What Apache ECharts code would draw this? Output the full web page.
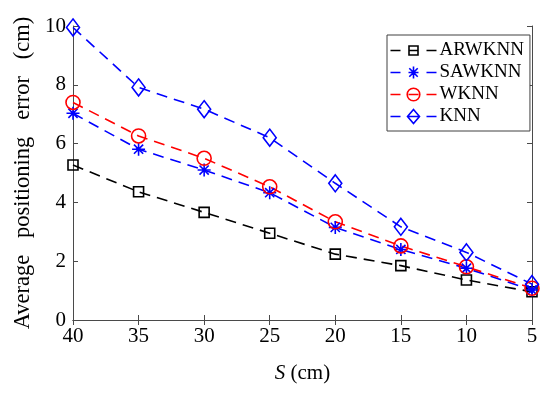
<!DOCTYPE html>
<html><head><meta charset="utf-8">
<script src="https://cdn.jsdelivr.net/npm/echarts@6/dist/echarts.min.js"></script>
<style>html,body{margin:0;padding:0;background:#fff}#c{width:550px;height:394px}</style>
</head><body><div id="c"></div>
<script>
const S = [40, 35, 30, 25, 20, 15, 10, 5];
const ARWKNN = [5.27, 4.36, 3.66, 2.95, 2.24, 1.85, 1.36, 0.96];
const SAWKNN = [7.03, 5.81, 5.10, 4.33, 3.15, 2.40, 1.76, 1.02];
const WKNN = [7.40, 6.26, 5.50, 4.53, 3.34, 2.52, 1.81, 1.08];
const KNN = [9.95, 7.91, 7.17, 6.20, 4.65, 3.17, 2.30, 1.22];
const yTicks = [0, 2, 4, 6, 8, 10];
const names = ['ARWKNN', 'SAWKNN', 'WKNN', 'KNN'];
const colors = ['#000000', '#0000ff', '#ff0000', '#0000ff'];

const font = 'Liberation Serif';
const ast = 'path://M0,-10L0,10M-10,0L10,0M-7.07,-7.07L7.07,7.07M-7.07,7.07L7.07,-7.07';
// legend icons: dash, marker, dash (46 x 14 box)
const frame = 'M0,0L0,0M46,14L46,14';
const dashes = 'M0,7L10,7M36,7L46,7M18,7L28,7';
const icons = [
  'path://' + frame + dashes + 'M18.5,2.5L27.5,2.5L27.5,11.5L18.5,11.5Z',
  'path://' + frame + dashes + 'M23,1L23,13M18.8,2.8L27.2,11.2M18.8,11.2L27.2,2.8',
  'path://' + frame + dashes + 'M16.7,7A6.3,6.3,0,1,1,29.3,7A6.3,6.3,0,1,1,16.7,7Z',
  'path://' + frame + dashes + 'M23,0L29,7L23,14L17,7Z'
];
function pairs(v){ return S.map((s,i)=>[s, v[i]]); }
function ser(name, data, color, symbol, size){
  return {name, type:'line', data:pairs(data), symbol, symbolSize:size,
    lineStyle:{color, width:1.6, type:[11,7]},
    itemStyle:{color:'none', borderColor:color, borderWidth:1.6, borderType:'solid'},
    z: 3};
}
const chart = echarts.init(document.getElementById('c'), null, {renderer:'canvas'});
const axisCol = '#4a4a4a';
chart.setOption({
  animation:false,
  grid:{left:73, right:18, top:26, bottom:74, show:false},
  legend:{
    left:387, top:35, orient:'vertical', itemWidth:46, itemHeight:14, itemGap:3,
    padding:[6,6,5,1], borderColor:'#404040', borderWidth:1, backgroundColor:'#fff',
    textStyle:{fontFamily:font, fontSize:19, color:'#000', lineHeight:18, padding:[0,0,0,-2]},
    itemStyle:{borderType:'solid'},
    lineStyle:{type:'solid'},
    data:names.map((n,i)=>({name:n, icon:icons[i],
      itemStyle:{color:'none', borderColor:colors[i], borderWidth:1.6, borderType:'solid'}}))
  },
  xAxis:[{
    type:'value', inverse:true, min:5, max:40, interval:5,
    name:'{i|S} (cm)', nameLocation:'middle', nameGap:43,
    nameTextStyle:{fontFamily:font, fontSize:21, color:'#000',
      rich:{i:{fontFamily:font, fontSize:21, fontStyle:'italic', color:'#000'}}},
    axisLine:{lineStyle:{color:axisCol, width:1}},
    axisTick:{inside:true, length:5, lineStyle:{color:axisCol}},
    axisLabel:{fontFamily:font, fontSize:21, color:'#000', margin:6},
    splitLine:{show:false}
  },{
    type:'value', inverse:true, min:5, max:40, interval:5, position:'top',
    axisLine:{lineStyle:{color:axisCol, width:1}},
    axisTick:{inside:true, length:5, lineStyle:{color:axisCol}},
    axisLabel:{show:false}, splitLine:{show:false}
  }],
  yAxis:[{
    type:'value', min:0, max:10, interval:2,
    name:'Average   positioning   error   (cm)', nameLocation:'middle', nameGap:37,
    nameTextStyle:{fontFamily:font, fontSize:22.5, color:'#000'},
    axisLine:{show:true, lineStyle:{color:axisCol, width:1}},
    axisTick:{show:true, inside:true, length:5, lineStyle:{color:axisCol}},
    axisLabel:{fontFamily:font, fontSize:21, color:'#000', margin:7,
      formatter:v=>yTicks.includes(v)?String(v):''},
    splitLine:{show:false}
  },{
    type:'value', min:0, max:10, interval:2, position:'right',
    axisLine:{show:true, lineStyle:{color:axisCol, width:1}},
    axisTick:{show:true, inside:true, length:5, lineStyle:{color:axisCol}},
    axisLabel:{show:false}, splitLine:{show:false}
  }],
  series:[
    ser(names[0], ARWKNN, colors[0], 'rect', 10),
    ser(names[1], SAWKNN, colors[1], ast, 13),
    ser(names[2], WKNN, colors[2], 'circle', 14),
    ser(names[3], KNN, colors[3], 'diamond', [13,17])
  ]
});
</script></body></html>
